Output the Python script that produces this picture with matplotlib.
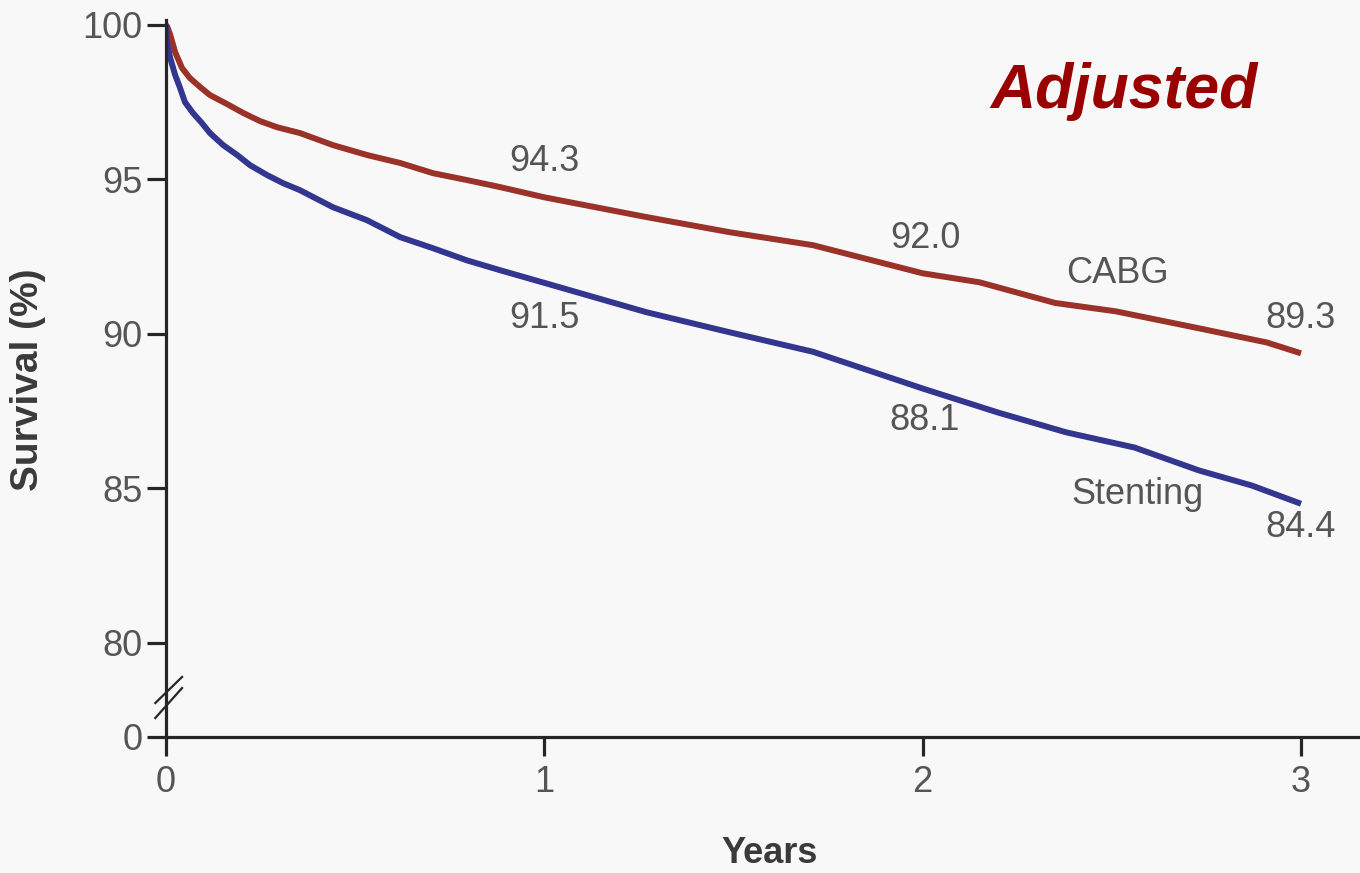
import matplotlib
matplotlib.use('Agg')
from matplotlib import pyplot as plt

# survival curves (years, % alive)
cabg_years = [0, 0.003, 0.011, 0.024, 0.042, 0.063, 0.09, 0.116, 0.161, 0.204, 0.248, 0.293,
              0.354, 0.441, 0.531, 0.619, 0.706, 0.795, 0.883, 1.0, 1.27, 1.49, 1.71, 2.0,
              2.15, 2.35, 2.51, 2.73, 2.91, 3.0]
cabg_surv = [100, 99.95, 99.68, 99.12, 98.61, 98.28, 97.99, 97.73, 97.44, 97.15, 96.89, 96.69,
             96.5, 96.11, 95.79, 95.53, 95.2, 94.98, 94.75, 94.42, 93.78, 93.29, 92.87, 91.96,
             91.67, 91.0, 90.73, 90.18, 89.72, 89.37]

stent_years = [0, 0.003, 0.011, 0.024, 0.037, 0.05, 0.071, 0.095, 0.116, 0.151, 0.188, 0.222,
               0.267, 0.309, 0.354, 0.441, 0.531, 0.619, 0.706, 0.795, 0.883, 1.0, 1.27, 1.49,
               1.71, 2.0, 2.2, 2.38, 2.56, 2.73, 2.87, 3.0]
stent_surv = [100, 99.4, 98.93, 98.38, 97.96, 97.5, 97.15, 96.82, 96.5, 96.11, 95.79, 95.46,
              95.14, 94.88, 94.65, 94.1, 93.68, 93.13, 92.77, 92.38, 92.06, 91.65, 90.7, 90.05,
              89.42, 88.23, 87.45, 86.81, 86.32, 85.58, 85.09, 84.5]

# labelled values at 1, 2, 3 years
mark_years = [1, 2, 3]
cabg_labels = ['94.3', '92.0', '89.3']
stent_labels = ['91.5', '88.1', '84.4']

x_ticks = [0, 1, 2, 3]
y_ticks = [80, 85, 90, 95, 100]
y_zero = 76.95   # where the broken axis puts "0"

font = ['Liberation Sans Narrow', 'Liberation Sans', 'DejaVu Sans']
bg = '#f8f8f8'

fig = plt.figure(figsize=(13.6, 8.73), dpi=100, facecolor=bg)
ax = fig.add_axes([0.1221, 0.1558, 0.8779, 0.8213], facecolor=bg)

ax.plot(cabg_years, cabg_surv, color='#9a3229', lw=4.3, solid_capstyle='butt')
ax.plot(stent_years, stent_surv, color='#33368f', lw=4.3, solid_capstyle='butt')

ax.set_xlim(0, 3.156)
ax.set_ylim(y_zero, 100.16)

for s in ['top', 'right']:
    ax.spines[s].set_visible(False)
for s in ['left', 'bottom']:
    ax.spines[s].set_linewidth(2.3)
    ax.spines[s].set_color('#262626')

ax.set_xticks(x_ticks)
ax.set_xticklabels([str(v) for v in x_ticks])
ax.set_yticks([y_zero] + y_ticks)
ax.set_yticklabels(['0'] + [str(v) for v in y_ticks])
ax.tick_params(direction='out', length=14, width=2.3, color='#262626',
               labelsize=26, labelcolor='#555555')
ax.tick_params(axis='y', pad=3)
ax.tick_params(axis='x', pad=6)
for lab in ax.get_xticklabels() + ax.get_yticklabels():
    lab.set_family(font)

# axis break marks
for y0, y1 in [(0.0474, 0.0837), (0.0265, 0.0683)]:
    ax.plot([-0.009, 0.0134], [y0, y1], transform=ax.transAxes, color='#262626',
            lw=1.6, clip_on=False)

# value labels
txt = dict(fontsize=26, color='#555555', family=font, ha='center', va='center')
cabg_pos = [95.59, 93.10, 90.50]
stent_pos = [90.50, 87.20, 83.73]
for i in range(3):
    xx = mark_years[i] + (0.006 if i == 1 else 0)
    ax.text(xx, cabg_pos[i], cabg_labels[i], **txt)
    ax.text(xx, stent_pos[i], stent_labels[i], **txt)

ax.text(2.514, 91.96, 'CABG', **txt)
ax.text(2.569, 84.80, 'Stenting', **txt)

ax.text(2.532, 97.31, 'Adjusted', fontsize=45, color='#990000', weight='bold',
        style='italic', family=['Liberation Sans', 'DejaVu Sans'], ha='center', va='baseline')

fig.text(28 / 1360, 1 - 380 / 873, 'Survival (%)', rotation=90, ha='center', va='center',
         fontsize=28, weight='bold', color='#3a3a3a', family=font)
fig.text(770 / 1360, 1 - 836 / 873, 'Years', ha='center', va='top',
         fontsize=26, weight='bold', color='#3a3a3a', family=font)

plt.savefig('out.png', dpi=100, facecolor=bg)
